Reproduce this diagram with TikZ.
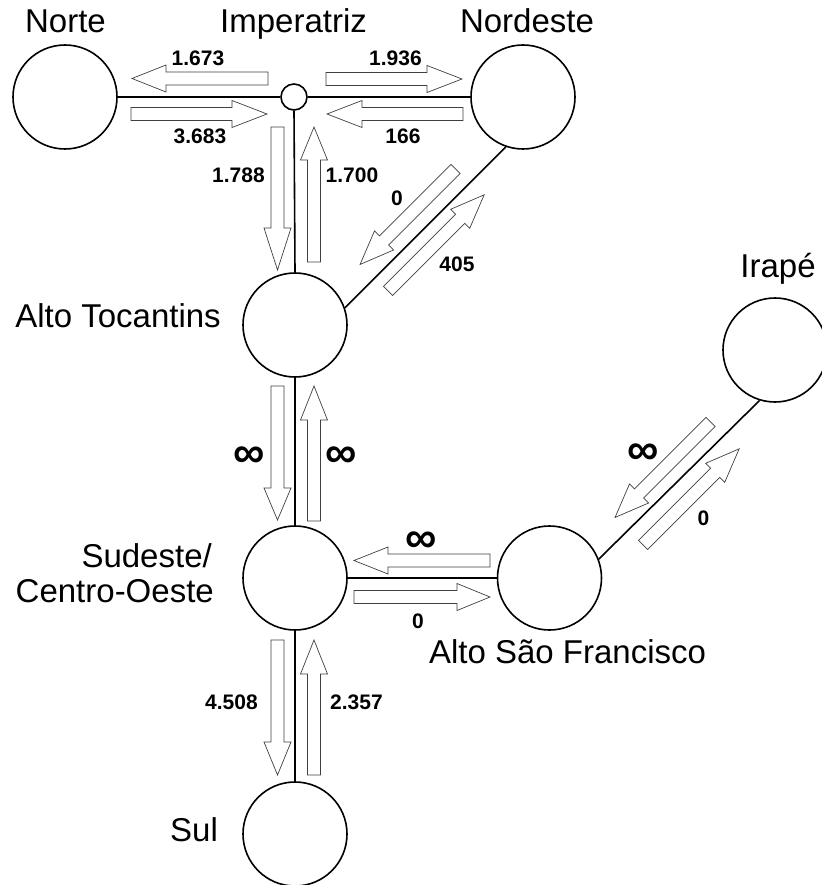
\documentclass[tikz,border=0pt]{standalone}
\usepackage{fontspec}
\setmainfont{Liberation Sans}
\begin{document}
\begin{tikzpicture}[x=1pt,y=-1pt,
  region/.style={circle,draw,line width=1.6pt,minimum size=104pt,inner sep=0pt},
  hub/.style={circle,draw,line width=1.6pt,minimum size=26pt,inner sep=0pt},
  link/.style={line width=1.6pt},
  flowbox/.style={draw=black!75,line width=0.7pt,fill=white,line join=miter},
  regname/.style={inner sep=0pt,font=\fontsize{33}{37}\selectfont},
  flowval/.style={inner sep=0pt,font=\bfseries\fontsize{21}{25}\selectfont},
  flowinf/.style={inner sep=0pt,font=\bfseries\fontsize{44}{48}\selectfont}]

% canvas
\useasboundingbox[fill=white] (0,0) rectangle (821,885);

% block arrow: tail x, tail y, direction, length, head length
\newcommand\flowarrow[5]{%
  \draw[flowbox,shift={(#1,#2)},rotate=#3]
    (0pt,-6.5pt) -- ({#4pt-#5pt},-6.5pt) -- ({#4pt-#5pt},-13.5pt) -- (#4pt,0pt)
    -- ({#4pt-#5pt},13.5pt) -- ({#4pt-#5pt},6.5pt) -- (0pt,6.5pt) -- cycle;}

% regions
\node[region] (norte)    at (65,97)    {};
\node[hub]    (imp)      at (294,97)   {};
\node[region] (nordeste) at (523,97)   {};
\node[region] (altotoc)  at (295,325)  {};
\node[region] (sudeste)  at (295,578)  {};
\node[region] (asf)      at (549.5,578) {};
\node[region] (irape)    at (775,350)  {};
\node[region] (sul)      at (295,834)  {};

% interconnections
\draw[link] (norte) -- (imp);
\draw[link] (imp) -- (nordeste);
\draw[link] (imp.south) -- (altotoc.north);
\draw[link] (nordeste.251) -- (altotoc.19);
\draw[link] (altotoc.south) -- (sudeste.north);
\draw[link] (sudeste.east) -- (asf.west);
\draw[link] (asf.21) -- (irape.253);
\draw[link] (sudeste.south) -- (sul.north);

% flows
\flowarrow{268}{78.5}{180}{136}{34}
\flowarrow{131}{114}{0}{136}{35}
\flowarrow{326}{79}{0}{136}{35}
\flowarrow{463}{114}{180}{136}{35}
\flowarrow{277.5}{127}{270}{143}{42}
\flowarrow{314}{262}{90}{135}{33}
\flowarrow{277.5}{386}{270}{134}{32}
\flowarrow{314}{521}{90}{135}{34}
\flowarrow{277.5}{640}{270}{135}{33}
\flowarrow{314}{775}{90}{135}{34}
\flowarrow{490}{560.5}{180}{136}{34}
\flowarrow{354}{597}{0}{136}{33}
\flowarrow{455.5}{169}{225}{135}{34}
\flowarrow{388}{291}{45}{136}{34}
\flowarrow{710.5}{422}{225}{135}{34}
\flowarrow{643}{545}{45}{136}{34}

% region names
\node[regname,anchor=base] (tnorte) at (65.5,33) {Norte};
\node[regname,anchor=base] (timp) at (293.5,33) {Imperatriz};
\node[regname,anchor=base] (tnordeste) at (527,33) {Nordeste};
\node[regname,anchor=base] (taltotoc) at (118,327) {Alto Tocantins};
\node[regname,anchor=base east] (tsud1) at (212,567) {Sudeste/};
\node[regname,anchor=base east] (tsud2) at (214,602) {Centro-Oeste};
\node[regname,anchor=base] (tasf) at (567.5,663) {Alto São Francisco};
\node[regname,anchor=base] (tirape) at (778,277) {Irapé};
\node[regname,anchor=base] (tsul) at (194,841) {Sul};

% flow values
\node[flowval] (v1) at (198,58.5) {1.673};
\node[flowval] (v2) at (200,136.5) {3.683};
\node[flowval] (v3) at (395.5,58.5) {1.936};
\node[flowval] (v4) at (403,136.5) {166};
\node[flowval] (v5) at (238.5,175.5) {1.788};
\node[flowval] (v6) at (352,175.5) {1.700};
\node[flowval] (v7) at (397,198.5) {0};
\node[flowval] (v8) at (457,264) {405};
\node[flowinf] (v9) at (249,457.5) {∞};
\node[flowinf] (v10) at (341,457.5) {∞};
\node[flowinf] (v11) at (421,542.5) {∞};
\node[flowval] (v12) at (418,621.5) {0};
\node[flowinf] (v13) at (643,454) {∞};
\node[flowval] (v14) at (703.5,518) {0};
\node[flowval] (v15) at (231.5,702.5) {4.508};
\node[flowval] (v16) at (356.5,702.5) {2.357};
\end{tikzpicture}
\end{document}
